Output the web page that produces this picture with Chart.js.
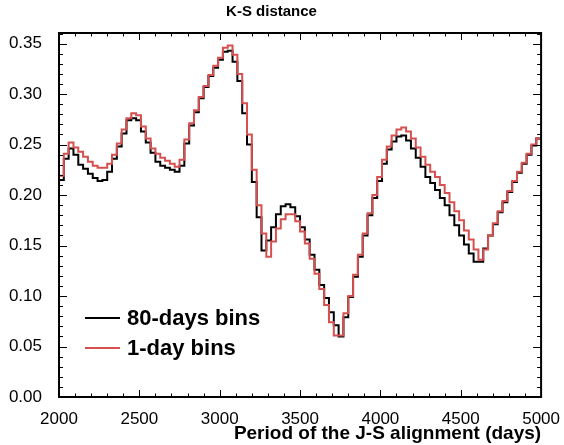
<!DOCTYPE html>
<html>
<head>
<meta charset="utf-8">
<script src="https://cdn.jsdelivr.net/npm/chart.js@4.4.1/dist/chart.umd.min.js"></script>
<style>
    body { margin: 0; background: #ffffff; }
    canvas { display: block; }
</style>
</head>
<body>
<canvas id="kschart" width="564" height="445"></canvas>
<script>
// histogram bins: 100 bins of 30 days, 2000 -> 5000
const binStart = 2000
const binWidth = 30
const xTicks = [2000, 2500, 3000, 3500, 4000, 4500, 5000]
const yTicks = [0, 0.05, 0.10, 0.15, 0.20, 0.25, 0.30, 0.35]

const bins80 = [
    0.215, 0.236, 0.246, 0.240, 0.230, 0.226, 0.221, 0.217, 0.214, 0.215,
    0.223, 0.236, 0.248, 0.261, 0.274, 0.276, 0.274, 0.263, 0.252, 0.242,
    0.233, 0.229, 0.227, 0.225, 0.223, 0.229, 0.251, 0.269, 0.282, 0.296,
    0.307, 0.318, 0.326, 0.334, 0.342, 0.343, 0.332, 0.313, 0.281, 0.250,
    0.213, 0.178, 0.145, 0.155, 0.168, 0.181, 0.189, 0.191, 0.188, 0.179,
    0.168, 0.156, 0.141, 0.126, 0.111, 0.098, 0.084, 0.071, 0.060, 0.079,
    0.099, 0.119, 0.139, 0.160, 0.180, 0.197, 0.214, 0.231, 0.245, 0.253,
    0.258, 0.259, 0.254, 0.246, 0.237, 0.228, 0.218, 0.212, 0.205, 0.197,
    0.190, 0.180, 0.170, 0.160, 0.151, 0.142, 0.134, 0.134, 0.147, 0.160,
    0.171, 0.183, 0.193, 0.203, 0.213, 0.222, 0.231, 0.240, 0.249, 0.256
]

const bins1 = [
    0.219, 0.241, 0.252, 0.247, 0.243, 0.238, 0.233, 0.229, 0.227, 0.227,
    0.231, 0.240, 0.251, 0.265, 0.276, 0.281, 0.279, 0.268, 0.256, 0.246,
    0.241, 0.237, 0.234, 0.231, 0.228, 0.235, 0.255, 0.271, 0.284, 0.297,
    0.308, 0.319, 0.328, 0.336, 0.346, 0.348, 0.339, 0.320, 0.291, 0.260,
    0.225, 0.190, 0.162, 0.139, 0.154, 0.167, 0.176, 0.181, 0.181, 0.174,
    0.164, 0.152, 0.137, 0.122, 0.107, 0.091, 0.074, 0.061, 0.061, 0.083,
    0.100, 0.121, 0.141, 0.162, 0.182, 0.200, 0.218, 0.235, 0.248, 0.259,
    0.265, 0.267, 0.263, 0.256, 0.247, 0.238, 0.230, 0.223, 0.218, 0.210,
    0.202, 0.193, 0.184, 0.175, 0.165, 0.156, 0.146, 0.136, 0.146, 0.160,
    0.172, 0.184, 0.194, 0.204, 0.214, 0.223, 0.232, 0.241, 0.250, 0.256
]

const legendNames = ['80-days bins', '1-day bins']
const lineColors = ['#000000', '#d65050']

// outline of a histogram: start at zero, one point per bin left edge, close at the last edge
function histPoints(values) {
    let pts = [{ x: binStart, y: 0 }]
    for (const [i, v] of values.entries()) {
        pts.push({ x: binStart + i * binWidth, y: v })
    }
    pts.push({ x: binStart + values.length * binWidth, y: values[values.length - 1] })
    return pts
}

const whiteBg = {
    id: 'whiteBg',
    beforeDraw(chart) {
        const ctx = chart.ctx
        ctx.save()
        ctx.fillStyle = '#ffffff'
        ctx.fillRect(0, 0, chart.width, chart.height)
        ctx.restore()
    }
}

// frame with inward ticks on all four sides
const frameTicks = {
    id: 'frameTicks',
    afterDatasetsDraw(chart) {
        const ctx = chart.ctx
        const a = chart.chartArea
        const xs = chart.scales.x
        const ys = chart.scales.y
        ctx.save()
        ctx.strokeStyle = '#000000'
        ctx.lineWidth = 1
        ctx.beginPath()
        for (let v = 2000; v <= 5000; v += 100) {
            const px = Math.round(xs.getPixelForValue(v)) + 0.5
            const len = v % 500 === 0 ? 7 : 3.5
            ctx.moveTo(px, a.bottom); ctx.lineTo(px, a.bottom - len)
            ctx.moveTo(px, a.top); ctx.lineTo(px, a.top + len)
        }
        for (let k = 0; k <= 36; k++) {
            const py = Math.round(ys.getPixelForValue(k / 100)) + 0.5
            const len = k % 5 === 0 ? 8 : 4
            ctx.moveTo(a.left, py); ctx.lineTo(a.left + len, py)
            ctx.moveTo(a.right, py); ctx.lineTo(a.right - len, py)
        }
        ctx.stroke()
        ctx.lineWidth = 2
        ctx.strokeRect(a.left, a.top, a.right - a.left, a.bottom - a.top)
        ctx.restore()
    }
}

const lineLegend = {
    id: 'lineLegend',
    afterDraw(chart) {
        const ctx = chart.ctx
        ctx.save()
        ctx.font = 'bold 22px "Liberation Sans", Arial, sans-serif'
        ctx.textBaseline = 'middle'
        ctx.textAlign = 'left'
        const rows = [318, 348]
        for (const [i, name] of legendNames.entries()) {
            ctx.strokeStyle = lineColors[i]
            ctx.lineWidth = 2
            ctx.beginPath()
            ctx.moveTo(85, rows[i])
            ctx.lineTo(120, rows[i])
            ctx.stroke()
            ctx.fillStyle = '#000000'
            ctx.fillText(name, 127, rows[i] + 1)
        }
        ctx.restore()
    }
}

var ksChart = new Chart(document.getElementById('kschart'), {
    type: 'line',
    data: {
        datasets: [{
            label: legendNames[0],
            data: histPoints(bins80),
            borderColor: lineColors[0],
            borderWidth: 2,
            stepped: 'before',
            pointRadius: 0,
            fill: false,
            order: 2
        }, {
            label: legendNames[1],
            data: histPoints(bins1),
            borderColor: lineColors[1],
            borderWidth: 2,
            stepped: 'before',
            pointRadius: 0,
            fill: false,
            order: 1
        }]
    },
    options: {
        responsive: false,
        animation: false,
        devicePixelRatio: 1,
        layout: {
            padding: { left: 0, right: 21, top: 0, bottom: 0 }
        },
        plugins: {
            legend: { display: false },
            tooltip: { enabled: false },
            title: {
                display: true,
                text: 'K-S distance',
                color: '#000000',
                font: { family: '"Liberation Sans", Arial, sans-serif', size: 15, weight: 'bold' },
                padding: { top: 3, bottom: 12 }
            }
        },
        scales: {
            x: {
                type: 'linear',
                min: 2000,
                max: 5000,
                grid: { display: false },
                border: { display: false },
                afterBuildTicks: scale => { scale.ticks = xTicks.map(v => ({ value: v })) },
                afterFit: scale => { scale.height = 48 },
                ticks: {
                    color: '#000000',
                    padding: 4,
                    maxRotation: 0,
                    font: { family: '"Liberation Sans", Arial, sans-serif', size: 17 },
                    callback: v => String(v)
                },
                title: {
                    display: true,
                    text: 'Period of the J-S alignment (days)',
                    align: 'end',
                    color: '#000000',
                    padding: { top: 0, bottom: 0 },
                    font: { family: '"Liberation Sans", Arial, sans-serif', size: 19, weight: 'bold' }
                }
            },
            y: {
                min: 0,
                max: 0.3605,
                grid: { display: false },
                border: { display: false },
                afterBuildTicks: scale => { scale.ticks = yTicks.map(v => ({ value: v })) },
                afterFit: scale => { scale.width = 59 },
                ticks: {
                    color: '#000000',
                    padding: 9,
                    font: { family: '"Liberation Sans", Arial, sans-serif', size: 17 },
                    callback: v => v.toFixed(2)
                }
            }
        }
    },
    plugins: [whiteBg, frameTicks, lineLegend]
});
</script>
</body>
</html>
